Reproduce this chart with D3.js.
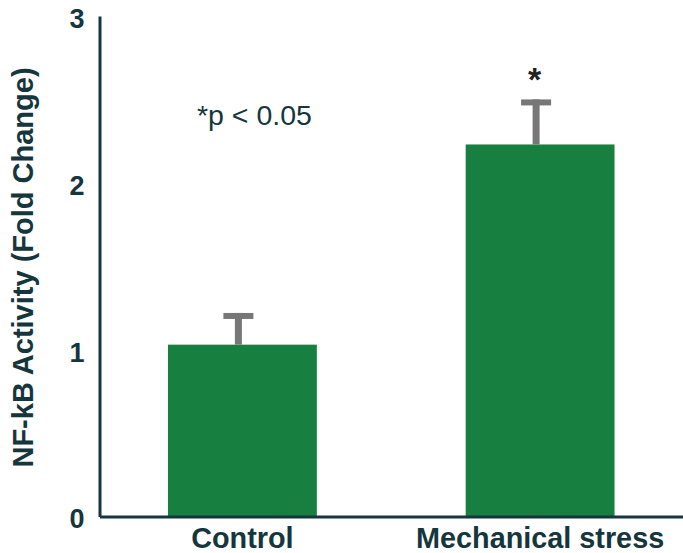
<!DOCTYPE html>
<html>
<head>
<meta charset="utf-8">
<script src="https://cdn.jsdelivr.net/npm/d3@7"></script>
<style>
  html, body { margin: 0; padding: 0; background: #ffffff; }
  svg { display: block; }
</style>
</head>
<body>
<svg id="chart" width="683" height="553"></svg>
<script>
// ---- data ----
const categories = ["Control", "Mechanical stress"];
const means = [1.03, 2.23];
const errors = [0.19, 0.27];
const significant = [false, true];
const yTicks = [0, 1, 2, 3];
const yTitle = "NF-kB Activity (Fold Change)";
const pNote = "*p < 0.05";

// ---- layout ----
const plotLeft = 99.5, plotRight = 683, plotTop = 16, plotBottom = 516.5;
const textColor = "#16363e";
const barColor = "#178040";
const errColor = "#777777";

const svg = d3.select("#chart");

const x = d3.scaleBand()
  .domain(categories)
  .range([plotLeft, plotRight])
  .paddingInner(0.5)
  .paddingOuter(0.23);

const y = d3.scaleLinear()
  .domain([0, 3])
  .range([plotBottom, plotTop]);

const data = categories.map((c, i) => ({ c, m: means[i], e: errors[i], sig: significant[i] }));

// bars
svg.append("g").selectAll("rect")
  .data(data)
  .enter().append("rect")
  .attr("x", d => x(d.c))
  .attr("y", d => y(d.m))
  .attr("width", x.bandwidth())
  .attr("height", d => y(0) - y(d.m))
  .attr("fill", barColor);

// error bars (upper only)
const errOffset = -4, capW = 30;
const eg = svg.append("g");
eg.selectAll("line.stem")
  .data(data)
  .enter().append("line")
  .attr("class", "stem")
  .attr("x1", d => x(d.c) + x.bandwidth() / 2 + errOffset)
  .attr("x2", d => x(d.c) + x.bandwidth() / 2 + errOffset)
  .attr("y1", d => y(d.m))
  .attr("y2", d => y(d.m + d.e))
  .attr("stroke", errColor)
  .attr("stroke-width", 7);
eg.selectAll("line.cap")
  .data(data)
  .enter().append("line")
  .attr("class", "cap")
  .attr("x1", d => x(d.c) + x.bandwidth() / 2 + errOffset - capW / 2)
  .attr("x2", d => x(d.c) + x.bandwidth() / 2 + errOffset + capW / 2)
  .attr("y1", d => y(d.m + d.e) + 3)
  .attr("y2", d => y(d.m + d.e) + 3)
  .attr("stroke", errColor)
  .attr("stroke-width", 6);

// significance asterisks
svg.append("g").selectAll("text")
  .data(data.filter(d => d.sig))
  .enter().append("text")
  .attr("x", d => x(d.c) + x.bandwidth() / 2 + errOffset - 1.5)
  .attr("y", d => y(d.m + d.e) - 8)
  .attr("text-anchor", "middle")
  .attr("font-family", "Liberation Sans, Arial, sans-serif")
  .attr("font-weight", "bold")
  .attr("font-size", 34)
  .attr("fill", "#222222")
  .text("*");

// y axis
const yAxis = svg.append("g")
  .attr("transform", `translate(${plotLeft},0)`)
  .call(d3.axisLeft(y).tickValues(yTicks).tickFormat(d3.format("d")).tickSize(0).tickPadding(15));
yAxis.select(".domain").attr("stroke", textColor).attr("stroke-width", 3);
yAxis.selectAll("text")
  .attr("font-family", "Liberation Sans, Arial, sans-serif")
  .attr("font-weight", "bold")
  .attr("font-size", 27)
  .attr("fill", textColor)
  .attr("dy", "0.42em");

// x axis
const xAxis = svg.append("g")
  .attr("transform", `translate(0,${plotBottom})`)
  .call(d3.axisBottom(x).tickSize(0).tickPadding(11));
xAxis.select(".domain").attr("stroke", textColor).attr("stroke-width", 3);
xAxis.selectAll("text")
  .attr("font-family", "Liberation Sans, Arial, sans-serif")
  .attr("font-weight", "bold")
  .attr("font-size", 28.8)
  .attr("fill", textColor);

// y title
svg.append("text")
  .attr("transform", `translate(33,${(68 + 467) / 2}) rotate(-90)`)
  .attr("text-anchor", "middle")
  .attr("font-family", "Liberation Sans, Arial, sans-serif")
  .attr("font-weight", "bold")
  .attr("font-size", 29)
  .attr("fill", textColor)
  .text(yTitle);

// p-value note
svg.append("text")
  .attr("x", 197)
  .attr("y", 125)
  .attr("font-family", "Liberation Sans, Arial, sans-serif")
  .attr("font-size", 28.5)
  .attr("fill", textColor)
  .text(pNote);
</script>
</body>
</html>
